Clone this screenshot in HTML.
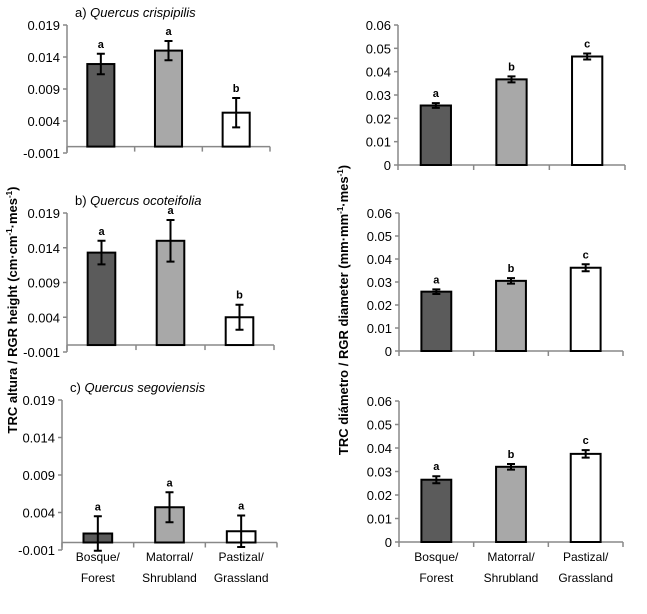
<!DOCTYPE html>
<html><head><meta charset="utf-8"><style>
html,body{margin:0;padding:0;background:#fff;}
svg{display:block;font-family:"Liberation Sans",Arial,sans-serif;}
</style></head><body>
<svg id="chart" width="647" height="614" viewBox="0 0 647 614" xmlns="http://www.w3.org/2000/svg">
<text transform="translate(17,310) rotate(-90)" text-anchor="middle" font-size="13" font-weight="bold">TRC altura / RGR height (cm·cm<tspan font-size="8" dy="-5">-1</tspan><tspan dy="5">·mes</tspan><tspan font-size="8" dy="-5">-1</tspan><tspan dy="5">)</tspan></text>
<text transform="translate(348,310) rotate(-90)" text-anchor="middle" font-size="13" font-weight="bold">TRC diámetro / RGR diameter (mm·mm<tspan font-size="8" dy="-5">-1</tspan><tspan dy="5">·mes</tspan><tspan font-size="8" dy="-5">-1</tspan><tspan dy="5">)</tspan></text>
</svg>
<script>
const categories=["Forest","Shrubland","Grassland"];
const heightA=[0.0129,0.0150,0.0053], heightAErr=[0.0016,0.0015,0.0023], heightALetters=["a","a","b"];
const heightB=[0.0133,0.0150,0.0040], heightBErr=[0.0017,0.0030,0.0018], heightBLetters=["a","a","b"];
const heightC=[0.0012,0.0047,0.0015], heightCErr=[0.0023,0.0020,0.0021], heightCLetters=["a","a","a"];
const diamA=[0.0255,0.0367,0.0465], diamAErr=[0.0010,0.0013,0.0013], diamALetters=["a","b","c"];
const diamB=[0.0258,0.0305,0.0362], diamBErr=[0.0010,0.0012,0.0015], diamBLetters=["a","b","c"];
const diamC=[0.0265,0.0320,0.0375], diamCErr=[0.0015,0.0012,0.0016], diamCLetters=["a","b","c"];
const heightTicks=[-0.001,0.004,0.009,0.014,0.019];
const heightTickLabels=["-0.001","0.004","0.009","0.014","0.019"];
const diamTicks=[0,0.01,0.02,0.03,0.04,0.05,0.06];
const diamTickLabels=["0","0.01","0.02","0.03","0.04","0.05","0.06"];

const svg=document.getElementById('chart');
const NS='http://www.w3.org/2000/svg';
function mk(tag,attrs,parent){const e=document.createElementNS(NS,tag);for(const k in attrs)e.setAttribute(k,attrs[k]);(parent||svg).appendChild(e);return e;}
const fills=["#5b5b5b","#a8a8a8","#ffffff"];

function panel(p){
  const g=mk('g',{});
  
  
  const y=v=>p.yTop+(p.max-v)/(p.max-p.min)*(p.yBot-p.yTop);
  const bw=(p.xr-p.x0)/3;
  const x=i=>p.x0+bw*i+bw/2;
  // y axis
  const ax=mk('line',{x1:p.x0,y1:y(p.max),x2:p.x0,y2:y(p.min),stroke:'#888','stroke-width':1.5},g);
  
  
  p.ticks.forEach((t,i)=>{
    mk('line',{x1:p.x0-4,y1:y(t),x2:p.x0,y2:y(t),stroke:'#888','stroke-width':1.5},g);
    const tl=mk('text',{x:p.x0-7,y:y(t)+5,'text-anchor':'end','font-size':13},g);
    
    
    tl.textContent=p.labels[i];
  });
  const base=y(p.baseVal);
  const xa=mk('line',{x1:p.x0,y1:base,x2:p.xr,y2:base,stroke:'#888','stroke-width':1.5},g);
  
  
  for(let i=0;i<=3;i++)mk('line',{x1:p.x0+bw*i,y1:base,x2:p.x0+bw*i,y2:base+5,stroke:'#888','stroke-width':1.5},g);
  const barW=bw*0.4;
  p.vals.forEach((v,i)=>{
    const top=Math.min(y(v),base),h=Math.abs(base-y(v));
    const r=mk('rect',{x:x(i)-barW/2,y:top,width:barW,height:h,fill:fills[i],stroke:'#000','stroke-width':2},g);
    
    
    const e=p.errs[i],y1=y(v+e),y2=y(v-e);
    const eb=mk('path',{d:`M${x(i)},${y1}V${y2}M${x(i)-4},${y1}H${x(i)+4}M${x(i)-4},${y2}H${x(i)+4}`,stroke:'#000','stroke-width':2,fill:'none'},g);
    
    
    const lt=mk('text',{x:x(i),y:y1-6,'text-anchor':'middle','font-size':11,'font-weight':'bold'},g);
    
    
    lt.textContent=p.letters[i];
  });
  if(p.title){
    const t=mk('text',{x:p.x0+8,y:y(p.max)-8,'font-size':13},g);
    
    
    t.innerHTML=p.title[0]+' <tspan font-style="italic">'+p.title[1]+'</tspan>';
  }
  if(p.xlabels){
    const es=["Bosque/","Matorral/","Pastizal/"];
    categories.forEach((c,i)=>{
      const a=mk('text',{x:x(i),y:561,'text-anchor':'middle','font-size':12},g);
      
      
      a.textContent=es[i];
      const b=mk('text',{x:x(i),y:582,'text-anchor':'middle','font-size':12},g);
      
      
      b.textContent=c;
    });
  }
}
const H={min:-0.001,max:0.019,baseVal:0,ticks:heightTicks,labels:heightTickLabels};
const D={min:0,max:0.06,baseVal:0,ticks:diamTicks,labels:diamTickLabels};
panel(Object.assign({},H,{name:'panel-a-height',x0:67,xr:270,yTop:25,yBot:153,vals:heightA,errs:heightAErr,letters:heightALetters,title:['a)','Quercus crispipilis']}));
panel(Object.assign({},H,{name:'panel-b-height',x0:67,xr:274,yTop:213,yBot:352,vals:heightB,errs:heightBErr,letters:heightBLetters,title:['b)','Quercus ocoteifolia']}));
panel(Object.assign({},H,{name:'panel-c-height',x0:62,xr:277,yTop:400,yBot:550,vals:heightC,errs:heightCErr,letters:heightCLetters,title:['c)','Quercus segoviensis'],xlabels:true}));
panel(Object.assign({},D,{name:'panel-a-diameter',x0:398,xr:625,yTop:25,yBot:165,vals:diamA,errs:diamAErr,letters:diamALetters}));
panel(Object.assign({},D,{name:'panel-b-diameter',x0:399,xr:623,yTop:213,yBot:351,vals:diamB,errs:diamBErr,letters:diamBLetters}));
panel(Object.assign({},D,{name:'panel-c-diameter',x0:399,xr:623,yTop:401,yBot:542,vals:diamC,errs:diamCErr,letters:diamCLetters,xlabels:true}));
</script>
</body></html>
